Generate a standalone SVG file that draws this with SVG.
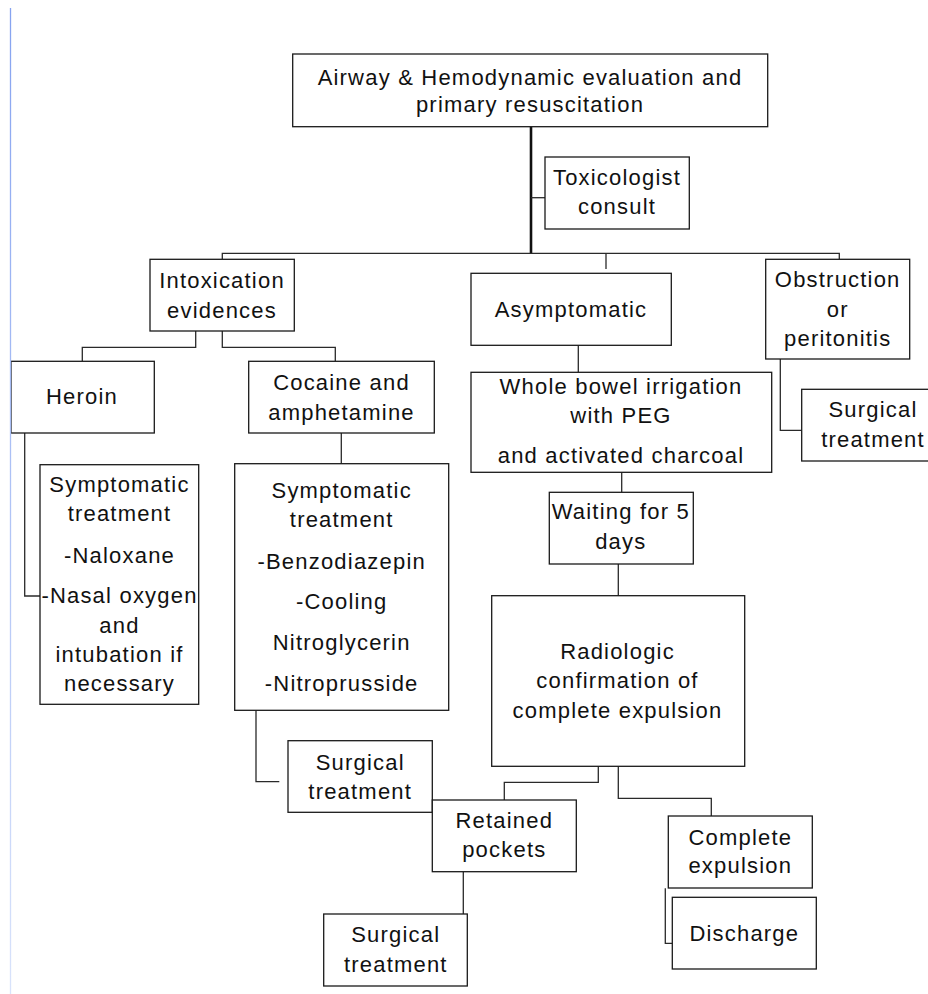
<svg xmlns="http://www.w3.org/2000/svg" width="928" height="994" viewBox="0 0 928 994">
<defs>
<linearGradient id="blue" gradientUnits="userSpaceOnUse" x1="10.5" y1="8" x2="10.5" y2="994">
<stop offset="0" stop-color="#86a3f0"/>
<stop offset="1" stop-color="#d9e3fb"/>
</linearGradient>
<style>
rect{fill:#fff;stroke:#1a1a1a;stroke-width:1.3}
text{font-family:"Liberation Sans",Arial,sans-serif;font-size:22px;letter-spacing:1.2px;fill:#111;text-anchor:middle}
.c path{fill:none;stroke:#2a2a2a;stroke-width:1.3}
</style>
</defs>
<rect x="0" y="0" width="928" height="994" style="fill:#fff;stroke:none"/>
<g class="c" id="connectors">
<path d="M531,126.7V253.3" style="stroke-width:2.6;stroke:#111"/>
<path d="M531,197.7H545"/>
<path d="M222.3,259.3V253.3H839.3V259.3"/>
<path d="M606,253.3V269"/>
<path d="M195.7,331V347.3H82.3V361.3"/>
<path d="M222.3,331V347.3H335.3V361.3"/>
<path d="M24.7,433V596H40"/>
<path d="M341.3,433V463.7"/>
<path d="M256,710.3V781.7H279.3"/>
<path d="M578.3,345.3V372.3"/>
<path d="M780.3,359V430.3H801.7"/>
<path d="M621.7,472.3V492.3"/>
<path d="M618.3,564V595.7"/>
<path d="M598.3,766.3V782.3H504.3V800"/>
<path d="M618.3,766.3V798.3H711.3V816"/>
<path d="M463.3,871.7V914"/>
<path d="M665.3,888.3V943.3H672.3"/>
</g>
<g id="airway"><rect x="292.7" y="54" width="475" height="72.7"/><text x="530" y="85">Airway &amp; Hemodynamic evaluation and</text><text x="530" y="112">primary resuscitation</text></g>
<g id="toxicologist"><rect x="545" y="157" width="144.3" height="72"/><text x="617" y="185">Toxicologist</text><text x="617" y="214">consult</text></g>
<g id="intoxication"><rect x="150" y="259.3" width="144.3" height="71.7"/><text x="222" y="288">Intoxication</text><text x="222" y="317.7">evidences</text></g>
<g id="asymptomatic"><rect x="471" y="273.3" width="200.3" height="72"/><text x="571" y="316.7">Asymptomatic</text></g>
<g id="obstruction"><rect x="765.7" y="259.3" width="144" height="99.7"/><text x="837.7" y="287.3">Obstruction</text><text x="837.7" y="316.7">or</text><text x="837.7" y="345.7">peritonitis</text></g>
<g id="heroin"><rect x="11" y="361.3" width="143.3" height="71.7"/><text x="82" y="404.3">Heroin</text></g>
<g id="cocaine"><rect x="248.7" y="361.3" width="185.6" height="71.7"/><text x="341.5" y="390">Cocaine and</text><text x="341.5" y="420">amphetamine</text></g>
<g id="whole-bowel"><rect x="471" y="372.3" width="300.7" height="100"/><text x="621" y="394">Whole bowel irrigation</text><text x="621" y="423.3">with PEG</text><text x="621" y="463.3">and activated charcoal</text></g>
<g id="surgical-obstruction"><rect x="801.7" y="389.3" width="143" height="71.7"/><text x="873" y="416.7">Surgical</text><text x="873" y="446.7">treatment</text></g>
<g id="heroin-treatment"><rect x="40" y="464.7" width="158.7" height="239.6"/><text x="119.5" y="491.7">Symptomatic</text><text x="119.5" y="521">treatment</text><text x="119.5" y="562.7">-Naloxane</text><text x="119.5" y="602.7">-Nasal oxygen</text><text x="119.5" y="632.7">and</text><text x="119.5" y="661.7">intubation if</text><text x="119.5" y="691">necessary</text></g>
<g id="cocaine-treatment"><rect x="234.7" y="463.7" width="214" height="246.6"/><text x="341.7" y="498.3">Symptomatic</text><text x="341.7" y="526.7">treatment</text><text x="341.7" y="569.3">-Benzodiazepin</text><text x="341.7" y="609.3">-Cooling</text><text x="341.7" y="650">Nitroglycerin</text><text x="341.7" y="690.7">-Nitroprusside</text></g>
<g id="waiting"><rect x="549.3" y="492.3" width="144" height="71.7"/><text x="620.8" y="519.3">Waiting for 5</text><text x="620.8" y="549">days</text></g>
<g id="radiologic"><rect x="491.7" y="595.7" width="253" height="170.6"/><text x="617.5" y="659">Radiologic</text><text x="617.5" y="688.3">confirmation of</text><text x="617.5" y="717.7">complete expulsion</text></g>
<g id="surgical-cocaine"><rect x="288" y="740.7" width="144.3" height="71.6"/><text x="360.2" y="770">Surgical</text><text x="360.2" y="799">treatment</text></g>
<g id="retained"><rect x="432.3" y="800" width="144" height="71.7"/><text x="504.3" y="828.3">Retained</text><text x="504.3" y="856.7">pockets</text></g>
<g id="surgical-retained"><rect x="323.7" y="914" width="143.6" height="72"/><text x="395.8" y="941.7">Surgical</text><text x="395.8" y="971.7">treatment</text></g>
<g id="complete"><rect x="668.3" y="816" width="144" height="72"/><text x="740.3" y="845">Complete</text><text x="740.3" y="873.3">expulsion</text></g>
<g id="discharge"><rect x="672.3" y="897.3" width="144" height="71.7"/><text x="744.3" y="940.7">Discharge</text></g>
<path d="M10.5,8V994" style="fill:none;stroke:url(#blue);stroke-width:1.3"/>
</svg>
